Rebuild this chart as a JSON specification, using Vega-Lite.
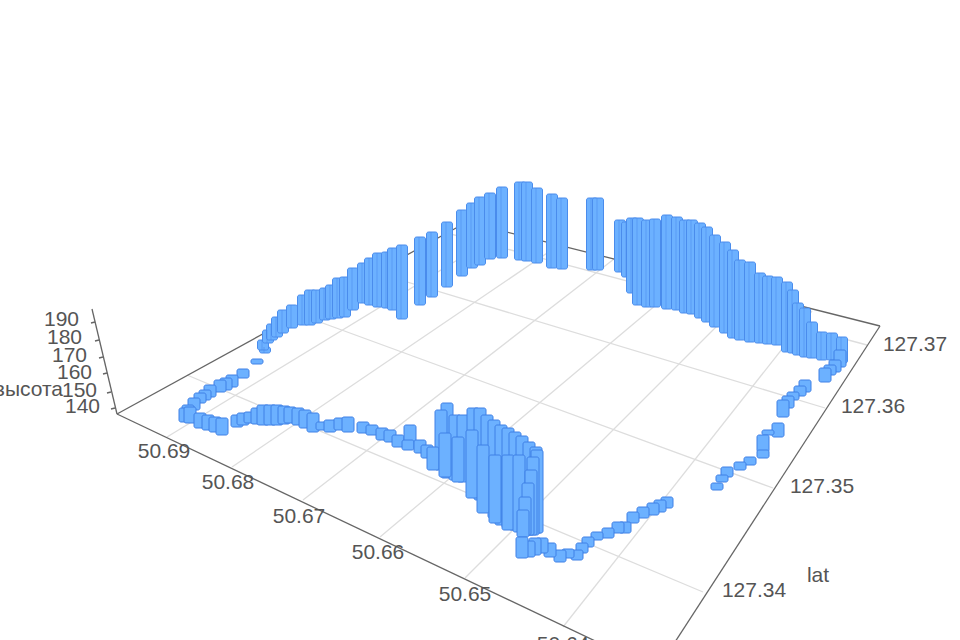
{"$schema":"https://vega.github.io/schema/vega-lite/v6.json","width":960,"height":640,"padding":0,"autosize":{"type":"none"},"background":"white","config":{"view":{"stroke":null},"font":"Liberation Sans"},
"datasets":{
"grid":[{"x0":167,"y0":437,"x1":505,"y1":231},{"x0":232,"y0":467,"x1":559,"y1":245},{"x0":303,"y0":500,"x1":614,"y1":259},{"x0":380,"y0":537,"x1":688,"y1":278},{"x0":465,"y0":578,"x1":749,"y1":294},{"x0":563,"y0":627,"x1":812,"y1":311},{"x0":703,"y0":592,"x1":187,"y1":375},{"x0":773,"y0":488,"x1":298,"y1":314},{"x0":825,"y0":408,"x1":374,"y1":272},{"x0":867,"y0":345,"x1":447,"y1":233}],
"frame":[{"x0":117,"y0":414,"x1":467,"y1":222},{"x0":467,"y0":222,"x1":880,"y1":326},{"x0":880,"y0":326,"x1":675,"y1":642},{"x0":117,"y0":414,"x1":610,"y1":648},{"x0":117,"y0":414,"x1":92,"y1":309},{"x0":95,"y0":322,"x1":91,"y1":323},{"x0":99,"y0":340,"x1":95,"y1":341},{"x0":103,"y0":357,"x1":99,"y1":358},{"x0":107,"y0":373,"x1":103,"y1":374},{"x0":111,"y0":392,"x1":107,"y1":393},{"x0":115,"y0":408,"x1":111,"y1":409}],
"arc":[{"x":265,"base":353,"top":347},{"x":263,"base":350,"top":340},{"x":268,"base":343,"top":330},{"x":272,"base":340,"top":324},{"x":277,"base":337,"top":317},{"x":283,"base":333,"top":310},{"x":292,"base":328,"top":305},{"x":303,"base":325,"top":295},{"x":310,"base":325,"top":290},{"x":317,"base":323,"top":290},{"x":325,"base":320,"top":288},{"x":331,"base":319,"top":285},{"x":338,"base":318,"top":278},{"x":345,"base":317,"top":277},{"x":353,"base":310,"top":268},{"x":363,"base":303,"top":263},{"x":370,"base":305,"top":258},{"x":378,"base":307,"top":253},{"x":387,"base":308,"top":252},{"x":393,"base":310,"top":248},{"x":402,"base":319,"top":245},{"x":420,"base":305,"top":237},{"x":432,"base":297,"top":232},{"x":447,"base":287,"top":222},{"x":462,"base":276,"top":210},{"x":472,"base":268,"top":203},{"x":480,"base":265,"top":197},{"x":490,"base":259,"top":193},{"x":502,"base":258,"top":187},{"x":520,"base":260,"top":182},{"x":527,"base":261,"top":182},{"x":537,"base":263,"top":188},{"x":552,"base":268,"top":194},{"x":562,"base":269,"top":198},{"x":592,"base":270,"top":198},{"x":598,"base":270,"top":198},{"x":620,"base":272,"top":220},{"x":627,"base":277,"top":222},{"x":632,"base":293,"top":218},{"x":638,"base":305,"top":218},{"x":647,"base":307,"top":220},{"x":655,"base":307,"top":219},{"x":667,"base":309,"top":215},{"x":677,"base":310,"top":217},{"x":685,"base":313,"top":220},{"x":692,"base":314,"top":220},{"x":700,"base":318,"top":223},{"x":707,"base":322,"top":227},{"x":715,"base":327,"top":235},{"x":725,"base":333,"top":242},{"x":733,"base":338,"top":250},{"x":740,"base":340,"top":260},{"x":750,"base":342,"top":262},{"x":760,"base":343,"top":273},{"x":768,"base":344,"top":276},{"x":777,"base":345,"top":277},{"x":787,"base":352,"top":282},{"x":793,"base":353,"top":290},{"x":798,"base":355,"top":303},{"x":805,"base":357,"top":308},{"x":812,"base":358,"top":322},{"x":822,"base":360,"top":332},{"x":832,"base":360,"top":333},{"x":842,"base":363,"top":337}],
"path":[{"x":840,"base":367,"top":350},{"x":835,"base":372,"top":360},{"x":830,"base":375,"top":365},{"x":825,"base":382,"top":368},{"x":805,"base":392,"top":380},{"x":800,"base":396,"top":386},{"x":793,"base":400,"top":392},{"x":788,"base":408,"top":396},{"x":783,"base":417,"top":400},{"x":778,"base":437,"top":423},{"x":768,"base":435,"top":430},{"x":763,"base":452,"top":435},{"x":763,"base":458,"top":450},{"x":750,"base":465,"top":457},{"x":740,"base":470,"top":462},{"x":727,"base":477,"top":467},{"x":722,"base":482,"top":475},{"x":717,"base":490,"top":483},{"x":257,"base":364,"top":359},{"x":243,"base":378,"top":369},{"x":232,"base":387,"top":375},{"x":226,"base":390,"top":378},{"x":220,"base":392,"top":380},{"x":210,"base":397,"top":385},{"x":205,"base":400,"top":390},{"x":200,"base":403,"top":393},{"x":194,"base":410,"top":398},{"x":188,"base":417,"top":405},{"x":185,"base":422,"top":408},{"x":190,"base":423,"top":407},{"x":200,"base":428,"top":413},{"x":208,"base":430,"top":415},{"x":215,"base":432,"top":417},{"x":222,"base":435,"top":418},{"x":237,"base":427,"top":415},{"x":243,"base":425,"top":413},{"x":250,"base":423,"top":412},{"x":257,"base":424,"top":408},{"x":263,"base":425,"top":405},{"x":270,"base":425,"top":405},{"x":277,"base":425,"top":405},{"x":284,"base":424,"top":406},{"x":290,"base":423,"top":407},{"x":298,"base":425,"top":408},{"x":305,"base":428,"top":410},{"x":313,"base":432,"top":413},{"x":322,"base":430,"top":422},{"x":330,"base":432,"top":420},{"x":340,"base":430,"top":418},{"x":348,"base":432,"top":417},{"x":363,"base":433,"top":422},{"x":372,"base":435,"top":425},{"x":382,"base":440,"top":428},{"x":390,"base":442,"top":430},{"x":398,"base":447,"top":435},{"x":410,"base":442,"top":425},{"x":408,"base":450,"top":440},{"x":420,"base":453,"top":440},{"x":427,"base":458,"top":445},{"x":447,"base":478,"top":403},{"x":441,"base":470,"top":410},{"x":455,"base":480,"top":415},{"x":463,"base":482,"top":415},{"x":473,"base":490,"top":408},{"x":480,"base":500,"top":408},{"x":487,"base":510,"top":415},{"x":494,"base":518,"top":420},{"x":501,"base":525,"top":425},{"x":508,"base":528,"top":428},{"x":515,"base":530,"top":432},{"x":522,"base":532,"top":436},{"x":529,"base":532,"top":442},{"x":536,"base":533,"top":447},{"x":433,"base":470,"top":447},{"x":445,"base":477,"top":433},{"x":458,"base":482,"top":437},{"x":472,"base":498,"top":430},{"x":483,"base":513,"top":445},{"x":495,"base":523,"top":455},{"x":508,"base":530,"top":455},{"x":519,"base":532,"top":455},{"x":537,"base":533,"top":450},{"x":533,"base":535,"top":457},{"x":531,"base":535,"top":470},{"x":528,"base":535,"top":483},{"x":525,"base":535,"top":497},{"x":523,"base":537,"top":510},{"x":667,"base":508,"top":497},{"x":660,"base":512,"top":500},{"x":653,"base":515,"top":503},{"x":643,"base":518,"top":507},{"x":633,"base":523,"top":512},{"x":625,"base":533,"top":522},{"x":618,"base":533,"top":522},{"x":608,"base":538,"top":528},{"x":597,"base":540,"top":532},{"x":588,"base":547,"top":537},{"x":582,"base":553,"top":543},{"x":577,"base":560,"top":550},{"x":568,"base":558,"top":549},{"x":560,"base":562,"top":550},{"x":550,"base":557,"top":543},{"x":542,"base":553,"top":538},{"x":535,"base":555,"top":538},{"x":529,"base":557,"top":541},{"x":522,"base":558,"top":537}],
"ticks":[{"x":164,"y":452,"t":"50.69"},{"x":228,"y":483,"t":"50.68"},{"x":299,"y":517,"t":"50.67"},{"x":378,"y":553,"t":"50.66"},{"x":465,"y":595,"t":"50.65"},{"x":563,"y":645,"t":"50.64"},{"x":915,"y":345,"t":"127.37"},{"x":873,"y":407,"t":"127.36"},{"x":822,"y":487,"t":"127.35"},{"x":754,"y":591,"t":"127.34"},{"x":818,"y":576,"t":"lat"}],
"zticks":[{"x":79,"y":320,"t":"190"},{"x":82,"y":338,"t":"180"},{"x":87,"y":356,"t":"170"},{"x":92,"y":373,"t":"160"},{"x":97,"y":391,"t":"150"},{"x":100,"y":407,"t":"140"},{"x":63,"y":390,"t":"высота"}]
},
"layer":[
{"data":{"name":"grid"},"mark":{"type":"rule","color":"#dddddd","strokeWidth":1.3},"encoding":{"x":{"field":"x0","type":"quantitative","scale":{"domain":[0,960],"padding":0},"axis":null},"y":{"field":"y0","type":"quantitative","scale":{"domain":[640,0]},"axis":null},"x2":{"field":"x1"},"y2":{"field":"y1"}}},
{"data":{"name":"frame"},"mark":{"type":"rule","color":"#666666","strokeWidth":1.3},"encoding":{"x":{"field":"x0","type":"quantitative","scale":{"domain":[0,960],"padding":0},"axis":null},"y":{"field":"y0","type":"quantitative","scale":{"domain":[640,0]},"axis":null},"x2":{"field":"x1"},"y2":{"field":"y1"}}},
{"data":{"name":"arc"},"mark":{"type":"bar","orient":"vertical","size":11,"fill":"#6cb1ff","stroke":"#4a8cec","strokeWidth":1,"cornerRadius":2},"encoding":{"x":{"field":"x","type":"quantitative","scale":{"domain":[0,960],"padding":0},"axis":null},"y":{"field":"base","type":"quantitative","scale":{"domain":[640,0]},"axis":null},"y2":{"field":"top"}}},
{"data":{"name":"arc"},"mark":{"type":"rule","color":"#4a8cec","strokeWidth":1,"opacity":0.55,"xOffset":-1},"encoding":{"x":{"field":"x","type":"quantitative","scale":{"domain":[0,960],"padding":0},"axis":null},"y":{"field":"base","type":"quantitative","scale":{"domain":[640,0]},"axis":null},"y2":{"field":"top"}}},
{"data":{"name":"path"},"mark":{"type":"bar","orient":"vertical","size":12,"fill":"#6cb1ff","stroke":"#3f80e6","strokeWidth":1,"cornerRadius":2},"encoding":{"x":{"field":"x","type":"quantitative","scale":{"domain":[0,960],"padding":0},"axis":null},"y":{"field":"base","type":"quantitative","scale":{"domain":[640,0]},"axis":null},"y2":{"field":"top"}}},
{"data":{"name":"ticks"},"mark":{"type":"text","fontSize":21,"font":"Liberation Sans","color":"#555555","align":"center","baseline":"middle"},"encoding":{"x":{"field":"x","type":"quantitative","scale":{"domain":[0,960],"padding":0},"axis":null},"y":{"field":"y","type":"quantitative","scale":{"domain":[640,0]},"axis":null},"text":{"field":"t"}}},
{"data":{"name":"zticks"},"mark":{"type":"text","fontSize":21,"font":"Liberation Sans","color":"#555555","align":"right","baseline":"middle"},"encoding":{"x":{"field":"x","type":"quantitative","scale":{"domain":[0,960],"padding":0},"axis":null},"y":{"field":"y","type":"quantitative","scale":{"domain":[640,0]},"axis":null},"text":{"field":"t"}}}
]}
